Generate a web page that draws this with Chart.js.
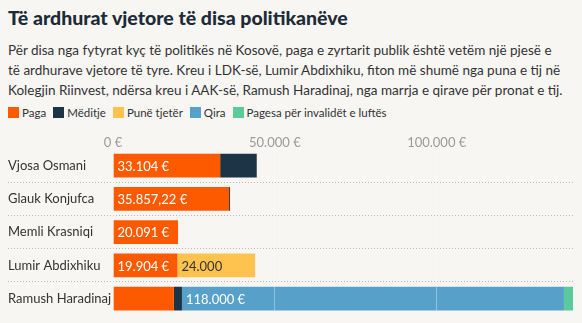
<!DOCTYPE html>
<html>
<head>
<meta charset="utf-8">
<script src="https://cdn.jsdelivr.net/npm/chart.js@4/dist/chart.umd.min.js"></script>
<style>
  body { margin: 0; background: #f7f6f3; font-family: Lato, sans-serif; width: 582px; height: 323px; overflow: hidden; position: relative; }
  h1 { position: absolute; left: 8px; top: 6px; margin: 0; font-size: 19.5px; font-weight: 900; color: #1d2b38; }
  p.sub { position: absolute; left: 8px; top: 40px; margin: 0; font-size: 13.5px; line-height: 20px; color: #333; white-space: nowrap; }
  #legend { position: absolute; left: 8px; top: 106px; font-size: 11.5px; color: #333; white-space: nowrap; }
  #legend span.item { margin-right: 7px; }
  #legend span.box { display: inline-block; width: 11px; height: 11px; margin-right: 3px; vertical-align: -1px; }
  #wrap { position: absolute; left: 0; top: 128px; width: 582px; height: 195px; }
</style>
</head>
<body>
<h1>Të ardhurat vjetore të disa politikanëve</h1>
<p class="sub">Për disa nga fytyrat kyç të politikës në Kosovë, paga e zyrtarit publik është vetëm një pjesë e<br>të ardhurave vjetore të tyre. Kreu i LDK-së, Lumir Abdixhiku, fiton më shumë nga puna e tij në<br>Kolegjin Riinvest, ndërsa kreu i AAK-së, Ramush Haradinaj, nga marrja e qirave për pronat e tij.</p>
<div id="legend"></div>
<div id="wrap"><canvas id="myChart"></canvas></div>
<script>
const categories = ['Vjosa Osmani', 'Glauk Konjufca', 'Memli Krasniqi', 'Lumir Abdixhiku', 'Ramush Haradinaj'];
const seriesNames = ['Paga', 'Mëditje', 'Punë tjetër', 'Qira', 'Pagesa për invalidët e luftës'];
const seriesColors = ['#fd5a00', '#1c3446', '#fec34e', '#56a0ca', '#5ccb9b'];
const paga = [33104, 35857.22, 20091, 19904, 18800];
const meditje = [11300, 300, 0, 0, 2500];
const puneTjeter = [0, 0, 0, 24000, 0];
const qira = [0, 0, 0, 0, 118000];
const invalid = [0, 0, 0, 0, 2800];
const pagaLabels = ['33.104 €', '35.857,22 €', '20.091 €', '19.904 €', null];
const puneLabels = [null, null, null, '24.000', null];
const qiraLabels = [null, null, null, null, '118.000 €'];
const tickValues = [0, 50000, 100000];

const values = [paga, meditje, puneTjeter, qira, invalid];
const barLabels = [pagaLabels, [], puneLabels, qiraLabels, []];
const labelColors = ['#fff', '#fff', '#333', '#fff', '#fff'];

// legend
document.getElementById('legend').innerHTML = seriesNames.map((n, i) =>
  '<span class="item"><span class="box" style="background:' + seriesColors[i] + '"></span>' + n + '</span>'
).join('');

const totals = categories.map((c, i) => values.reduce((s, v) => s + v[i], 0));
const fmt = v => v.toLocaleString('de-DE') + ' €';

const barText = {
  id: 'barText',
  afterDatasetsDraw(chart) {
    const ctx = chart.ctx;
    ctx.save();
    ctx.font = '13px Lato, sans-serif';
    ctx.textBaseline = 'middle';
    ctx.textAlign = 'left';
    chart.data.datasets.forEach((ds, i) => {
      const meta = chart.getDatasetMeta(i);
      meta.data.forEach((el, j) => {
        const t = barLabels[i][j];
        if (!t) return;
        ctx.fillStyle = labelColors[i];
        ctx.fillText(t, Math.min(el.base, el.x) + 4, el.y + 1);
      });
    });
    ctx.restore();
  }
};

const lineCol = ctx => (ctx.index >= 1 && ctx.index <= 4) ? '#b9b9b9' : 'rgba(0,0,0,0)';

new Chart(document.getElementById('myChart').getContext('2d'), {
  type: 'bar',
  data: {
    labels: categories,
    datasets: seriesNames.map((n, i) => ({
      label: n,
      data: values[i],
      backgroundColor: seriesColors[i],
      borderWidth: 0,
      categoryPercentage: 1,
      barPercentage: 0.71
    }))
  },
  options: {
    indexAxis: 'y',
    responsive: true,
    maintainAspectRatio: false,
    animation: false,
    layout: { padding: { left: 8, right: 9, top: 0, bottom: 2 } },
    plugins: { legend: { display: false }, tooltip: { enabled: false } },
    scales: {
      x: {
        position: 'top',
        stacked: true,
        min: 0,
        max: Math.max(...totals),
        afterBuildTicks: s => { s.ticks = tickValues.map(v => ({ value: v })); },
        afterFit: s => { s.height = 21; },
        ticks: { callback: v => fmt(v), color: '#9a9a9a', font: { family: 'Lato', size: 13 }, padding: -2, maxRotation: 0 },
        grid: { z: 1, color: 'rgba(255,255,255,0.35)', drawTicks: false },
        border: { display: false }
      },
      y: {
        stacked: true,
        afterFit: s => { s.width = 105; },
        ticks: { crossAlign: 'far', color: '#333', font: { family: 'Lato', size: 13 }, padding: 0 },
        grid: { offset: true, color: lineCol, tickColor: lineCol, tickLength: 105, lineWidth: 1, tickBorderDash: [1, 2] },
        border: { display: false, dash: [1, 2] }
      }
    }
  },
  plugins: [barText]
});
</script>
</body>
</html>
